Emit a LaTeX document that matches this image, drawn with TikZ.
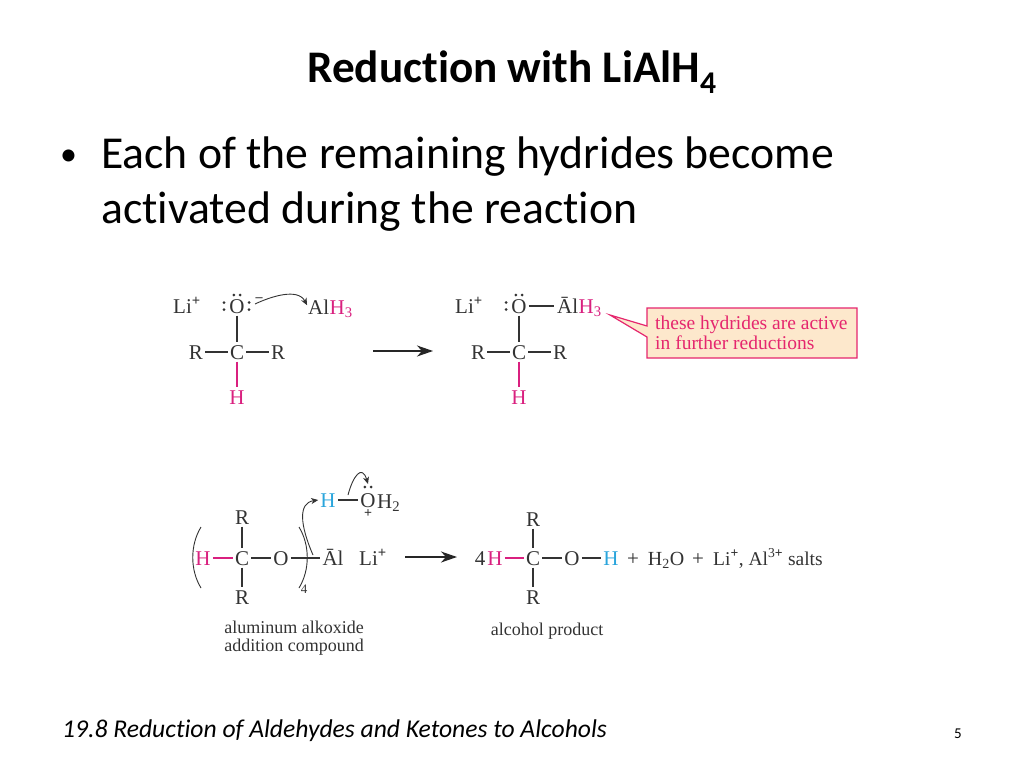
\documentclass[tikz,border=0pt]{standalone}
\usepackage{fontspec}
\setmainfont{Carlito}[Ligatures=NoCommon]
\newfontfamily\chemfont{Liberation Serif}
\usetikzlibrary{arrows.meta}
\definecolor{ink}{HTML}{333333}
\definecolor{hpink}{HTML}{D9207F}
\definecolor{hblue}{HTML}{2AA5DC}
\definecolor{boxfill}{HTML}{FDE8CC}
\definecolor{boxline}{HTML}{E5266E}
\newcommand{\plussup}{\textsuperscript{\textbf{+}}}
\newcommand{\lonepair}[2]{\fill[ink] (#1-3.2,#2) circle (1.5pt); \fill[ink] (#1+3.2,#2) circle (1.5pt);}
\newcommand{\colonpair}[2]{\fill[ink] (#1,#2-3.5) circle (1.5pt); \fill[ink] (#1,#2+3.5) circle (1.5pt);}
\tikzset{
  chem/.style={inner xsep=2pt,inner ysep=2.5pt,text=ink,font=\chemfont\fontsize{21}{21}\selectfont,text height=14pt,text depth=0pt},
  chempink/.style={chem,text=hpink},
  chemblue/.style={chem,text=hblue},
  small label/.style={inner sep=0pt,text=ink,font=\chemfont\fontsize{18}{18}\selectfont,anchor=base},
  bond/.style={draw=ink,line width=1.1pt},
  pinkbond/.style={draw=hpink,line width=1.1pt},
  reaction arrow/.style={draw=black!85,line width=1.6pt,-{Stealth[length=16pt,width=11pt,inset=5pt]}},
  curly/.style={draw=ink,line width=.9pt,-{Stealth[length=7pt,width=6pt,inset=2pt]}},
  paren/.style={draw=ink,line width=.9pt},
  slide/.style={inner sep=0pt,anchor=base west,text=black},
}
\begin{document}
\begin{tikzpicture}[x=1pt,y=-1pt]
\useasboundingbox (0,0) rectangle (1024,768);
\fill[white] (0,0) rectangle (1024,768);
% slide text
\node[slide,anchor=base,font=\bfseries\fontsize{45.2}{45.2}\selectfont] (title) at (512,82) {Reduction with LiAlH\textsubscript{4}};
\node[slide,font=\fontsize{34}{34}\selectfont] (bullet) at (60,165) {•};
\node[slide,font=\fontsize{45.7}{45.7}\selectfont] (line1) at (101,168) {Each of the remaining hydrides become};
\node[slide,font=\fontsize{45.7}{45.7}\selectfont] (line2) at (101,223) {activated during the reaction};
\node[slide,font=\itshape\fontsize{25.6}{25.6}\selectfont] (foot) at (62,737) {19.8 Reduction of Aldehydes and Ketones to Alcohols};
\node[slide,anchor=base,font=\fontsize{15}{15}\selectfont] (num) at (958,738) {5};

% first reactant
\node[chem] (li1) at (187,306) {Li\plussup};
\node[chem] (o1) at (237,306) {O};
\lonepair{237}{295}
\colonpair{224}{306}
\colonpair{249}{306}
\node[chem,font=\chemfont\bfseries\fontsize{14}{14}\selectfont,text height=6pt,inner sep=0pt] (minus1) at (259,298) {–};
\node[chem] (c1) at (237,352) {C};
\node[chem] (r1a) at (196,352) {R};
\node[chem] (r1b) at (278,352) {R};
\node[chempink] (h1) at (237,397) {H};
\node[chem,anchor=west,inner sep=0pt] (al1) at (308,307) {Al};
\node[chempink,anchor=west,inner sep=0pt] (h31) at (al1.east) {H\textsubscript{3}};
\draw[bond] (o1) -- (c1);
\draw[bond] (r1a) -- (c1);
\draw[bond] (c1) -- (r1b);
\draw[pinkbond] (c1) -- (h1);
\coordinate (cs0) at (255,304);
\draw[curly,shorten >=2pt] (cs0) .. controls (272,296) and (298,288) .. (al1.west);
% arrow 1
\coordinate (a1s) at (373,351);
\coordinate (a1e) at (433,351);
\draw[reaction arrow] (a1s) -- (a1e);

% first product
\node[chem] (li2) at (469,306) {Li\plussup};
\node[chem] (o2) at (519,306) {O};
\lonepair{519}{295}
\colonpair{506}{306}
\node[chem] (c2) at (519,352) {C};
\node[chem] (r2a) at (478,352) {R};
\node[chem] (r2b) at (560,352) {R};
\node[chempink] (h2) at (519,397) {H};
\node[chem,inner xsep=0pt,anchor=west] (al2) at (557,306) {Āl};
\node[chempink,anchor=west,inner sep=0pt] (h32) at (al2.east) {H\textsubscript{3}};
\draw[bond,shorten >=3pt] (o2) -- (al2);
\draw[bond] (o2) -- (c2);
\draw[bond] (r2a) -- (c2);
\draw[bond] (c2) -- (r2b);
\draw[pinkbond] (c2) -- (h2);

% callout
\coordinate (bnw) at (647,308);
\coordinate (bne) at (857,308);
\coordinate (bse) at (857,358);
\coordinate (bsw) at (647,358);
\coordinate (tailA) at (647,337);
\coordinate (tip) at (610,315);
\coordinate (tailB) at (647,326);
\draw[draw=boxline,fill=boxfill,line width=1.2pt] (bnw) -- (bne) -- (bse) -- (bsw) -- (tailA) -- (tip) -- (tailB) -- cycle;
\node[inner sep=0pt,anchor=west,align=left,text=boxline,font=\chemfont\fontsize{19.5}{20}\selectfont] (boxtext) at (655,333) {these hydrides are active\\in further reductions};

% second reactant
\node[chempink] (h3p) at (203,558) {H};
\node[chem] (c3) at (242,558) {C};
\node[chem] (o3) at (281,558) {O};
\node[chem] (r3a) at (242,517) {R};
\node[chem] (r3b) at (242,597) {R};
\node[chem] (al3) at (333,558) {Āl};
\node[chem] (li3) at (373,558) {Li\plussup};
\node[chem,font=\chemfont\fontsize{13}{13}\selectfont,text height=9pt] (four) at (304,589) {4};
\node[chemblue] (h4) at (328,500) {H};
\node[chem] (o4) at (368,500) {O};
\lonepair{368}{487}
\node[chem,anchor=west,inner sep=0pt] (h24) at (377,501) {H\textsubscript{2}};
\node[chem,font=\chemfont\bfseries\fontsize{14}{14}\selectfont,text height=7pt,inner sep=0pt] (plus4) at (368,514) {+};
\draw[pinkbond] (h3p) -- (c3);
\draw[bond] (c3) -- (o3);
\draw[bond] (r3a) -- (c3);
\draw[bond] (c3) -- (r3b);
\draw[bond] (o3) -- (al3);
\draw[bond] (h4) -- (o4);
\coordinate (lpa) at (201,527);
\coordinate (lpb) at (201,588);
\coordinate (rpa) at (299,527);
\coordinate (rpb) at (299,588);
\draw[paren] (lpa) .. controls (190,545) and (190,570) .. (lpb);
\draw[paren] (rpa) .. controls (310,545) and (310,570) .. (rpb);
\coordinate (cs1) at (313,555);
\coordinate (cs2) at (348,495);
\coordinate (ce2) at (368,484);
\draw[curly] (cs1) .. controls (300,525) and (298,503) .. (h4.west);
\draw[curly] (cs2) .. controls (353,476) and (362,464) .. (ce2);
\coordinate (a2s) at (405,557);
\coordinate (a2e) at (457,557);
\draw[reaction arrow] (a2s) -- (a2e);
\node[small label] (lab1) at (294,633) {aluminum alkoxide};
\node[small label] (lab2) at (294,651) {addition compound};

% second product
\node[chem] (n4) at (480,558) {4};
\node[chempink] (h5) at (495,558) {H};
\node[chem] (c5) at (533,558) {C};
\node[chem] (o5) at (572,558) {O};
\node[chemblue] (h6) at (611,558) {H};
\node[chem] (r5a) at (533,519) {R};
\node[chem] (r5b) at (533,597) {R};
\node[chem] (p1) at (633,558) {+};
\node[chem,font=\chemfont\fontsize{20}{20}\selectfont] (w) at (666,558) {H\textsubscript{2}O};
\node[chem] (p2) at (698,558) {+};
\node[chem,anchor=west,inner sep=0pt,font=\chemfont\fontsize{19.5}{20}\selectfont] (salts) at (713,558) {Li\plussup, Al\textsuperscript{3\textbf{+}} salts};
\draw[pinkbond] (h5) -- (c5);
\draw[bond] (c5) -- (o5);
\draw[bond] (o5) -- (h6);
\draw[bond] (r5a) -- (c5);
\draw[bond] (c5) -- (r5b);
\node[small label] (lab3) at (547,635) {alcohol product};
\end{tikzpicture}
\end{document}
